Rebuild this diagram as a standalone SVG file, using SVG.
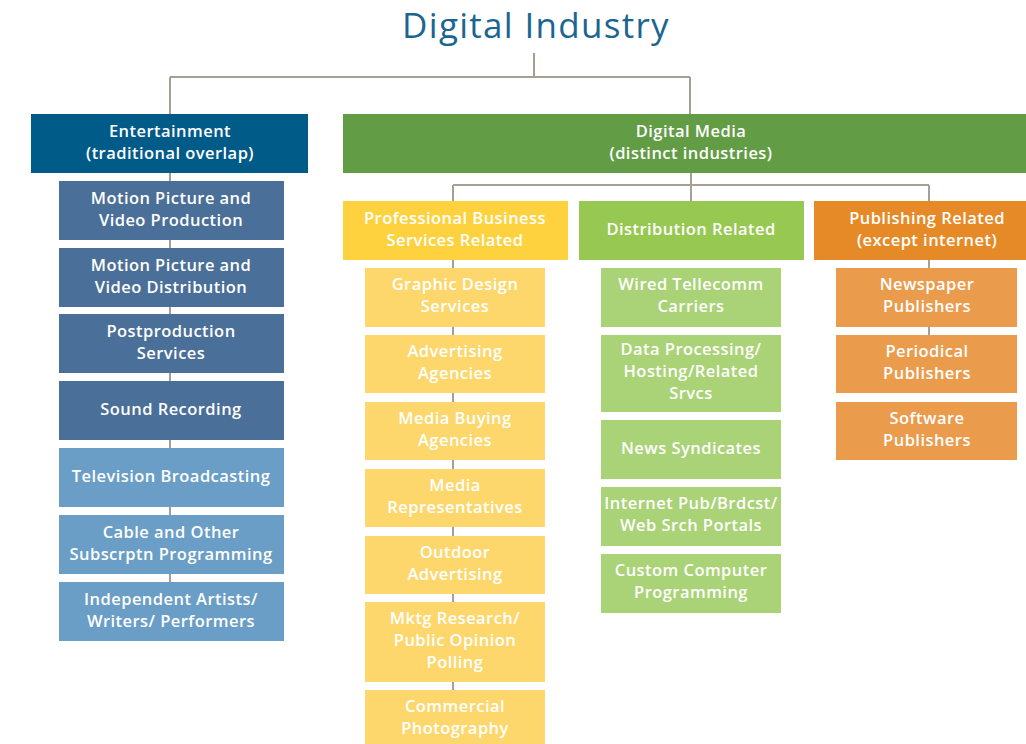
<svg xmlns="http://www.w3.org/2000/svg" width="1026" height="744" viewBox="0 0 1026 744">
<style>
  .t{font-family:"Open Sans","Liberation Sans",sans-serif;font-weight:600;font-size:16.5px;letter-spacing:0.45px;fill:#ffffff;text-anchor:middle}
  .title{font-family:"Open Sans","Liberation Sans",sans-serif;font-weight:400;font-size:35px;letter-spacing:1.3px;fill:#1b6591;text-anchor:middle}
  .c{fill:none;stroke:#a69f94;stroke-width:2}
  .ent{fill:#015b89}
  .eb1{fill:#4a6f98}
  .eb2{fill:#6a9ec6}
  .dm{fill:#629c45}
  .pb{fill:#fed23e}
  .pbc{fill:#fdd76b}
  .dr{fill:#97c952}
  .drc{fill:#a9d376}
  .pr{fill:#e68a28}
  .prc{fill:#eb9b4c}
</style>
<rect width="1026" height="744" fill="#ffffff"/>
<text class="title" x="536" y="38">Digital Industry</text>
<g id="connectors">
  <path class="c" d="M534 53V77M170 77H690M170 77V114M690 77V114"/>
  <path class="c" d="M170 173V582"/>
  <path class="c" d="M691 173V201M453 185H929M453 185V201M929 185V201"/>
  <path class="c" d="M453 260V690"/>
  <path class="c" d="M929 260V335"/>
</g>
<g id="entertainment"><rect class="ent" x="31" y="114" width="277" height="59"/><text class="t"><tspan x="170" y="137">Entertainment</tspan><tspan x="170" y="159">(traditional overlap)</tspan></text></g>
<g id="motion-production"><rect class="eb1" x="59" y="181" width="225" height="59"/><text class="t"><tspan x="171" y="204">Motion Picture and</tspan><tspan x="171" y="226">Video Production</tspan></text></g>
<g id="motion-distribution"><rect class="eb1" x="59" y="248" width="225" height="59"/><text class="t"><tspan x="171" y="271">Motion Picture and</tspan><tspan x="171" y="293">Video Distribution</tspan></text></g>
<g id="postproduction"><rect class="eb1" x="59" y="314" width="225" height="59"/><text class="t"><tspan x="171" y="337">Postproduction</tspan><tspan x="171" y="359">Services</tspan></text></g>
<g id="sound-recording"><rect class="eb1" x="59" y="381" width="225" height="59"/><text class="t" x="171" y="415">Sound Recording</text></g>
<g id="tv-broadcasting"><rect class="eb2" x="59" y="448" width="225" height="59"/><text class="t" x="171" y="482">Television Broadcasting</text></g>
<g id="cable"><rect class="eb2" x="59" y="515" width="225" height="59"/><text class="t"><tspan x="171" y="538">Cable and Other</tspan><tspan x="171" y="560">Subscrptn Programming</tspan></text></g>
<g id="independent"><rect class="eb2" x="59" y="582" width="225" height="59"/><text class="t"><tspan x="171" y="605">Independent Artists/</tspan><tspan x="171" y="627">Writers/ Performers</tspan></text></g>

<g id="digital-media"><rect class="dm" x="343" y="114" width="683" height="59"/><text class="t"><tspan x="691" y="137">Digital Media</tspan><tspan x="691" y="159">(distinct industries)</tspan></text></g>

<g id="professional"><rect class="pb" x="343" y="201" width="225" height="59"/><text class="t"><tspan x="455" y="224">Professional Business</tspan><tspan x="455" y="246">Services Related</tspan></text></g>
<g id="graphic-design"><rect class="pbc" x="365" y="268" width="180" height="59"/><text class="t"><tspan x="455" y="290">Graphic Design</tspan><tspan x="455" y="312">Services</tspan></text></g>
<g id="advertising"><rect class="pbc" x="365" y="335" width="180" height="58"/><text class="t"><tspan x="455" y="357">Advertising</tspan><tspan x="455" y="379">Agencies</tspan></text></g>
<g id="media-buying"><rect class="pbc" x="365" y="402" width="180" height="58"/><text class="t"><tspan x="455" y="424">Media Buying</tspan><tspan x="455" y="446">Agencies</tspan></text></g>
<g id="media-reps"><rect class="pbc" x="365" y="469" width="180" height="58"/><text class="t"><tspan x="455" y="491">Media</tspan><tspan x="455" y="513">Representatives</tspan></text></g>
<g id="outdoor"><rect class="pbc" x="365" y="536" width="180" height="58"/><text class="t"><tspan x="455" y="558">Outdoor</tspan><tspan x="455" y="580">Advertising</tspan></text></g>
<g id="mktg-research"><rect class="pbc" x="365" y="602" width="180" height="80"/><text class="t"><tspan x="455" y="624">Mktg Research/</tspan><tspan x="455" y="646">Public Opinion</tspan><tspan x="455" y="668">Polling</tspan></text></g>
<g id="commercial-photo"><rect class="pbc" x="365" y="690" width="180" height="59"/><text class="t"><tspan x="455" y="712">Commercial</tspan><tspan x="455" y="734">Photography</tspan></text></g>

<g id="distribution"><rect class="dr" x="579" y="201" width="225" height="59"/><text class="t" x="691" y="235">Distribution Related</text></g>
<g id="wired"><rect class="drc" x="601" y="268" width="180" height="59"/><text class="t"><tspan x="691" y="290">Wired Tellecomm</tspan><tspan x="691" y="312">Carriers</tspan></text></g>
<g id="data-processing"><rect class="drc" x="601" y="335" width="180" height="77"/><text class="t"><tspan x="691" y="355">Data Processing/</tspan><tspan x="691" y="377">Hosting/Related</tspan><tspan x="691" y="399">Srvcs</tspan></text></g>
<g id="news-syndicates"><rect class="drc" x="601" y="420" width="180" height="59"/><text class="t" x="691" y="454">News Syndicates</text></g>
<g id="internet-pub"><rect class="drc" x="601" y="487" width="180" height="59"/><text class="t"><tspan x="691" y="509">Internet Pub/Brdcst/</tspan><tspan x="691" y="531">Web Srch Portals</tspan></text></g>
<g id="custom-computer"><rect class="drc" x="601" y="554" width="180" height="59"/><text class="t"><tspan x="691" y="576">Custom Computer</tspan><tspan x="691" y="598">Programming</tspan></text></g>

<g id="publishing"><rect class="pr" x="814" y="201" width="212" height="59"/><text class="t"><tspan x="927" y="224">Publishing Related</tspan><tspan x="927" y="246">(except internet)</tspan></text></g>
<g id="newspaper"><rect class="prc" x="836" y="268" width="181" height="59"/><text class="t"><tspan x="927" y="290">Newspaper</tspan><tspan x="927" y="312">Publishers</tspan></text></g>
<g id="periodical"><rect class="prc" x="836" y="335" width="181" height="58"/><text class="t"><tspan x="927" y="357">Periodical</tspan><tspan x="927" y="379">Publishers</tspan></text></g>
<g id="software"><rect class="prc" x="836" y="402" width="181" height="58"/><text class="t"><tspan x="927" y="424">Software</tspan><tspan x="927" y="446">Publishers</tspan></text></g>
</svg>
